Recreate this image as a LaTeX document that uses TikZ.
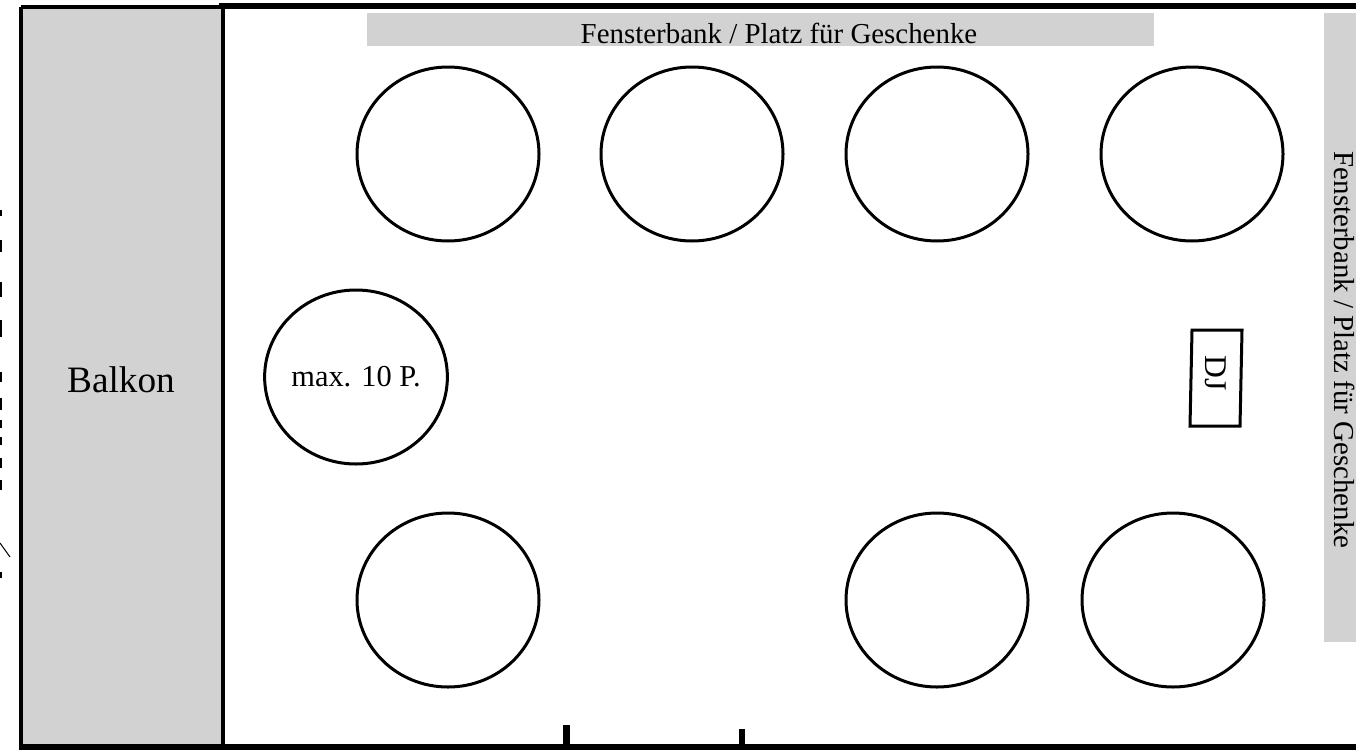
\documentclass[tikz,border=0pt]{standalone}
\usepackage{fontspec}
\setmainfont{Liberation Serif}
\usetikzlibrary{positioning}
\usetikzlibrary{shapes.geometric}
\tikzset{
	wall/.style={fill=black, draw=none},
	zone/.style={fill=gray!35, draw=none},
	table/.style={
		ellipse,
		draw=black,
		line width=.6mm,
		fill=white,
		minimum width=182*.2mm,
		minimum height=174*.2mm,
		inner sep=0pt,
		font=\fontsize{17.3}{20}\selectfont},
	zonelabel/.style={
		inner sep=0pt,
		font=\fontsize{16.45}{20}\selectfont},
}

\begin{document}
\begin{tikzpicture}
		[x=.2mm, y=-.2mm]
		\useasboundingbox (0,0) rectangle (1356,750);
		\fill[white] (0,0) rectangle (1356,750);
		% balcony and walls
		\fill[gray!35] (21,7) rectangle (223,746);
		\draw[line width=.7mm] (21,7) -- (221,7);
		\draw[line width=.7mm] (21,7) -- (21,746);
		\draw[line width=.7mm] (223,7) -- (223,746);
		\fill[wall] (219,3) rectangle (1356,9);
		\fill[wall] (19,744) rectangle (1356,750);
		% doors
		\fill[wall] (563,725) rectangle (570,745);
		\fill[wall] (739,729) rectangle (745,745);
		% window sills
		\fill[zone] (367,13) rectangle (1154,46);
		\fill[zone] (1324,13) rectangle (1356,642);
		\node[zonelabel] (sillTop) at (779,33) {Fensterbank / Platz für Geschenke};
		\node[zonelabel, rotate=-90] (sillRight) at (1345,350) {Fensterbank / Platz für Geschenke};
		\node[zonelabel, font=\fontsize{21.2}{25}\selectfont] (balkon) at (121,380) {Balkon};
		% tables
		\node[table] (tableA) at (448,154) {};
		\node[table] (tableB) at (692,154) {};
		\node[table] (tableC) at (937,154) {};
		\node[table] (tableD) at (1192,154) {};
		\node[table] (tableE) at (356,377) {max. 10 P.};
		\node[table] (tableF) at (448,600) {};
		\node[table] (tableG) at (937,600) {};
		\node[table] (tableH) at (1173,600) {};
		% dj desk
		\draw[line width=.6mm] (1192,330) -- (1242,330) -- (1240,426) -- (1190,426) -- cycle;
		\node[zonelabel, rotate=-90, font=\fontsize{18}{20}\selectfont] (dj) at (1216,373) {DJ};
		% cut off letters at the left edge
		\foreach \ya/\yb in {240/252,282/297,320/337,372/382,398/410,420/428,437/445,458/468,480/490,572/578}
			\fill[black] (0,\ya) rectangle (2,\yb);
		\fill[black] (0,210) rectangle (2,216);
		\draw[line width=.2mm] (0,543) -- (10,557);
\end{tikzpicture}
\end{document}
